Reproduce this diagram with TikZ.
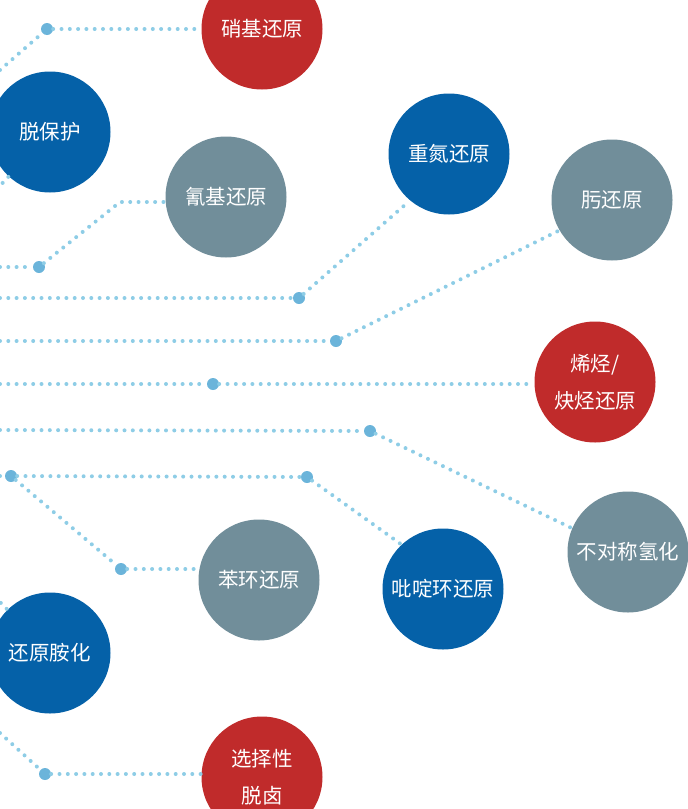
\documentclass[tikz,border=0pt]{standalone}
\usepackage{fontspec}
\newfontfamily\cjk{Noto Sans CJK SC}
\usetikzlibrary{positioning}
\definecolor{redc}{HTML}{C02B2B}
\definecolor{bluec}{HTML}{0561A8}
\definecolor{greyc}{HTML}{718E9A}
\definecolor{knotc}{HTML}{6BB4DA}
\definecolor{trailc}{HTML}{8ECDE6}
\tikzset{
 topic/.style={circle,minimum size=121pt,inner sep=0pt,text=white,align=center,
   font=\cjk\fontsize{20.5}{37}\selectfont},
 knot/.style={circle,fill=knotc,minimum size=12pt,inner sep=0pt},
 trail/.style={draw=trailc,line width=4pt,line cap=round,dash pattern=on 0pt off 8.3pt}
}

\begin{document}
\begin{tikzpicture}[x=1pt,y=-1pt]
 \useasboundingbox (0,0) rectangle (688,809);
 \clip (0,0) rectangle (688,809);
 % circles
 \node[topic,fill=redc] (nitro) at (262,29) {硝基还原};
 \node[topic,fill=bluec] (deprot) at (50,132) {脱保护};
 \node[topic,fill=greyc] (cyano) at (226,197) {氰基还原};
 \node[topic,fill=bluec] (diazo) at (449,154) {重氮还原};
 \node[topic,fill=greyc] (oxime) at (612,200) {肟还原};
 \node[topic,fill=redc] (alkene) at (595,382) {烯烃/\\炔烃还原};
 \node[topic,fill=greyc] (asym) at (628,552) {不对称氢化};
 \node[topic,fill=bluec] (pyr) at (443,589) {吡啶环还原};
 \node[topic,fill=greyc] (benz) at (259,580) {苯环还原};
 \node[topic,fill=bluec] (amin) at (50,653) {还原胺化};
 \node[topic,fill=redc] (dehal) at (262,777) {选择性\\脱卤};
 % knots
 \node[knot] (k1) at (47,29) {};
 \node[knot] (k3) at (39,267) {};
 \node[knot] (k4) at (299,298) {};
 \node[knot] (k5) at (336,341) {};
 \node[knot] (k6) at (213,384) {};
 \node[knot] (k7) at (370,431) {};
 \node[knot] (k8) at (11,476) {};
 \node[knot] (k8a) at (307,477) {};
 \node[knot] (k8b) at (121,569) {};
 \node[knot] (k10) at (45,774) {};
 % free ends
 \coordinate (s1) at (0,70);
 \coordinate (s2) at (-3,189);
 \coordinate (s3) at (0,267);
 \coordinate (b3) at (120,202);
 \coordinate (s4) at (0,298);
 \coordinate (s5) at (0,341);
 \coordinate (s6) at (0,384);
 \coordinate (s7) at (0,430);
 \coordinate (s8) at (0,476);
 \coordinate (s9) at (-5,597);
 \coordinate (s10) at (0,733);
 % trails
 \draw[trail] (s1) -- (k1) -- (k1 -| nitro.west);
 \draw[trail] (s2) -- (deprot);
 \draw[trail] (s3) -- (k3) -- (b3) -- (b3 -| cyano.west);
 \draw[trail] (s4) -- (k4);
 \draw[trail,shorten >=5pt] (k4) -- (diazo.230);
 \draw[trail] (s5) -- (k5) -- (oxime.210);
 \draw[trail] (s6) -- (k6) -- (k6 -| alkene.west);
 \draw[trail] (s7) -- (k7) -- (asym.157);
 \draw[trail] (s8) -- (k8) -- (k8a) -- (pyr.133);
 \draw[trail] (k8) -- (k8b) -- (k8b -| benz.west);
 \draw[trail] (s9) -- (amin);
 \draw[trail] (s10) -- (k10) -- (k10 -| dehal.west);
\end{tikzpicture}
\end{document}
